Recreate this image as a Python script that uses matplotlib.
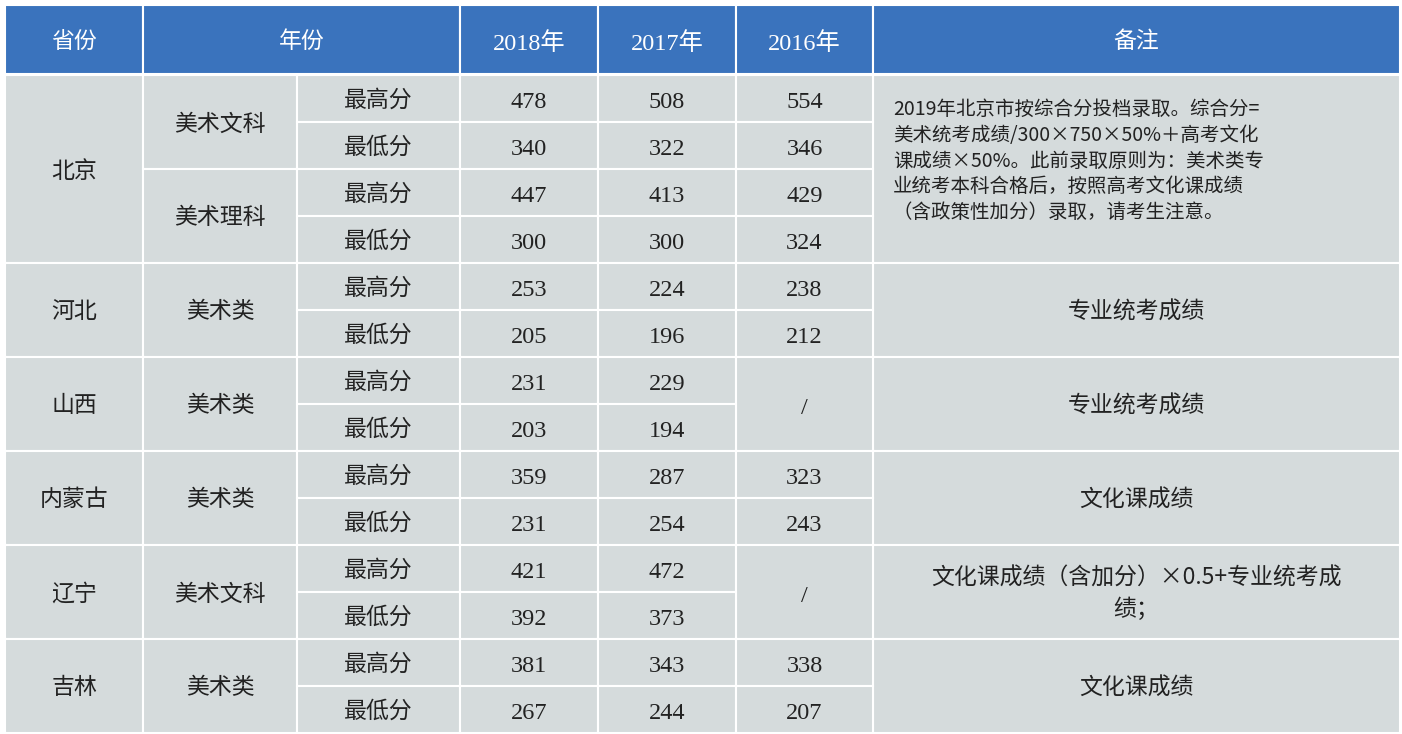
import matplotlib
matplotlib.use("Agg")
import matplotlib.pyplot as plt
from matplotlib.patches import Rectangle

headers = ["省份", "年份", "2018年", "2017年", "2016年", "备注"]
provinces = ["北京", "河北", "山西", "内蒙古", "辽宁", "吉林"]
prov_rows = [4, 2, 2, 2, 2, 2]
categories = ["美术文科", "美术理科", "美术类", "美术类", "美术类", "美术文科", "美术类"]
row_labels = ["最高分", "最低分"] * 7
v2018 = [478, 340, 447, 300, 253, 205, 231, 203, 359, 231, 421, 392, 381, 267]
v2017 = [508, 322, 413, 300, 224, 196, 229, 194, 287, 254, 472, 373, 343, 244]
v2016 = [554, 346, 429, 324, 238, 212, None, None, 323, 243, None, None, 338, 207]
remarks = ["2019年北京市按综合分投档录取。综合分=\n美术统考成绩/300×750×50%＋高考文化\n课成绩×50%。此前录取原则为：美术类专\n业统考本科合格后，按照高考文化课成绩\n（含政策性加分）录取，请考生注意。",
           "专业统考成绩", "专业统考成绩", "文化课成绩",
           "文化课成绩（含加分）×0.5+专业统考成\n绩；", "文化课成绩"]

W, H = 1402, 734
fig = plt.figure(figsize=(W/100, H/100), dpi=100)
ax = fig.add_axes([0, 0, 1, 1])
ax.set_xlim(0, W); ax.set_ylim(H, 0); ax.axis("off")
FAM = ["Noto Sans CJK SC", "DejaVu Sans"]
SER = ["Liberation Serif", "Noto Sans CJK SC"]
BG = "#d5dbdc"; HD = "#3a73bd"
xs = [5, 143, 297, 460, 598, 736, 873, 1400]
hy0, hy1 = 5, 74
y0 = 75; rh = (733 - y0) / 14

def cell(x0, x1, ya, yb, fc, txt=None, fam=FAM, color="#222222", size=16.5, ha="center", tx=None, ls=1.0, dy=2):
    ax.add_patch(Rectangle((x0, ya), x1 - x0, yb - ya, facecolor=fc, edgecolor="white", lw=1.5))
    if txt is not None:
        ax.text(tx if tx is not None else (x0 + x1) / 2, (ya + yb) / 2 + dy, txt, ha=ha, va="center",
                fontsize=size, family=fam, color=color, linespacing=ls)

hcols = [(0, 1), (1, 3), (3, 4), (4, 5), (5, 6), (6, 7)]
for (a, b), h in zip(hcols, headers):
    num = h[0].isdigit()
    cell(xs[a], xs[b], hy0, hy1, HD, h, fam=SER if num else FAM, color="white", size=17.5 if num else 16.5, dy=4 if num else 2)

r = 0; ci = 0
for p, n in zip(provinces, prov_rows):
    cell(xs[0], xs[1], y0 + r*rh, y0 + (r+n)*rh, BG, p)
    if p == "北京":
        cell(xs[6], xs[7], y0 + r*rh, y0 + (r+n)*rh, BG, remarks[provinces.index(p)],
             size=14, ha="left", tx=893, ls=1.3, dy=-8)
    else:
        cell(xs[6], xs[7], y0 + r*rh, y0 + (r+n)*rh, BG, remarks[provinces.index(p)], ls=1.4)
    for k in range(n // 2):
        rr = r + 2*k
        cell(xs[1], xs[2], y0 + rr*rh, y0 + (rr+2)*rh, BG, categories[ci]); ci += 1
    r += n

for i in range(14):
    ya, yb = y0 + i*rh, y0 + (i+1)*rh
    cell(xs[2], xs[3], ya, yb, BG, row_labels[i])
    cell(xs[3], xs[4], ya, yb, BG, str(v2018[i]), fam=SER, size=17.5, dy=4)
    cell(xs[4], xs[5], ya, yb, BG, str(v2017[i]), fam=SER, size=17.5, dy=4)
    if v2016[i] is not None:
        cell(xs[5], xs[6], ya, yb, BG, str(v2016[i]), fam=SER, size=17.5, dy=4)
    elif i % 2 == 0:
        cell(xs[5], xs[6], ya, ya + 2*rh, BG, "/", fam=SER, size=17.5, dy=4)

fig.savefig("out.png", dpi=100)
